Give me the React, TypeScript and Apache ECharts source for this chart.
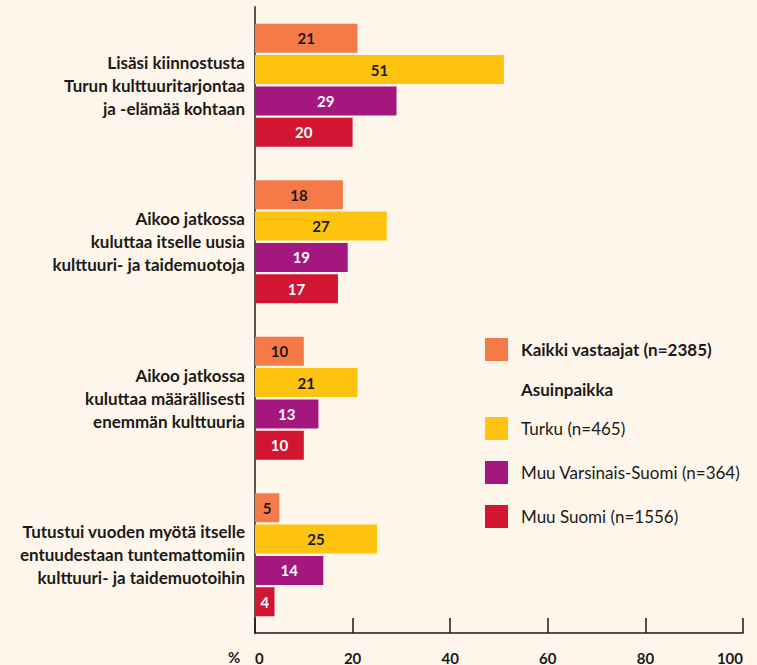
import React, { useEffect, useRef } from "react";
import * as echarts from "echarts";

const categories = [
  "Lisäsi kiinnostusta\nTurun kulttuuritarjontaa\nja -elämää kohtaan",
  "Aikoo jatkossa\nkuluttaa itselle uusia\nkulttuuri- ja taidemuotoja",
  "Aikoo jatkossa\nkuluttaa määrällisesti\nenemmän kulttuuria",
  "Tutustui vuoden myötä itselle\nentuudestaan tuntemattomiin\nkulttuuri- ja taidemuotoihin",
];

const seriesNames = [
  "Kaikki vastaajat (n=2385)",
  "Turku (n=465)",
  "Muu Varsinais-Suomi (n=364)",
  "Muu Suomi (n=1556)",
];

const kaikki = [21, 18, 10, 5];
const turku = [51, 27, 21, 25];
const muuVS = [29, 19, 13, 14];
const muuSuomi = [20, 17, 10, 4];

const xTicks = [0, 20, 40, 60, 80, 100];

const colors = ["#F47B47", "#FEC30E", "#A3177F", "#D11533"];
const labelColors = ["#1a1a1a", "#1a1a1a", "#ffffff", "#ffffff"];
const FONT = "Lato";

export default function App() {
  const ref = useRef<HTMLDivElement>(null);
  useEffect(() => {
    if (!ref.current) return;
    const chart = echarts.init(ref.current, null, { renderer: "svg" });
    const values = [kaikki, turku, muuVS, muuSuomi];
    const series = values.map((vals, i) => ({
      name: seriesNames[i],
      type: "bar",
      data: vals,
      barWidth: 29,
      barGap: "8%",
      itemStyle: { color: colors[i] },
      label: {
        show: true,
        position: "inside",
        color: labelColors[i],
        fontFamily: FONT,
        fontWeight: "bold",
        fontSize: 15,
      },
    }));
    chart.setOption({
      animation: false,
      backgroundColor: "#FEF6EA",
      textStyle: { fontFamily: FONT },
      grid: { left: 255, right: 14, top: 7, bottom: 32, containLabel: false },
      xAxis: {
        type: "value",
        min: xTicks[0],
        max: xTicks[xTicks.length - 1],
        interval: 20,
        splitLine: { show: false },
        axisLine: { show: true, lineStyle: { color: "#1a1a1a", width: 1.5 } },
        axisTick: { show: true, inside: true, length: 15, lineStyle: { color: "#1a1a1a", width: 1.5 } },
        axisLabel: {
          color: "#1a1a1a",
          fontFamily: FONT,
          fontWeight: "bold",
          fontSize: 15,
          margin: 17,
          alignMinLabel: "left",
          alignMaxLabel: "right",
        },
      },
      yAxis: {
        type: "category",
        inverse: true,
        data: categories,
        axisLine: { show: true, lineStyle: { color: "#555555", width: 2 } },
        axisTick: { show: false },
        axisLabel: {
          color: "#1a1a1a",
          fontFamily: FONT,
          fontWeight: "bold",
          fontSize: 17,
          lineHeight: 23,
          margin: 10,
          align: "right",
        },
      },
      legend: [
        {
          data: [seriesNames[0]],
          left: 485,
          top: 338,
          padding: 0,
          orient: "vertical",
          icon: "rect",
          itemWidth: 23,
          itemHeight: 23,
          selectedMode: false,
          textStyle: {
            fontFamily: FONT,
            fontWeight: "bold",
            fontSize: 17,
            color: "#1a1a1a",
            padding: [0, 0, 0, 8],
          },
        },
        {
          data: seriesNames.slice(1),
          left: 485,
          top: 417,
          padding: 0,
          orient: "vertical",
          icon: "rect",
          itemWidth: 23,
          itemHeight: 23,
          itemGap: 21,
          selectedMode: false,
          textStyle: {
            fontFamily: FONT,
            fontSize: 17,
            color: "#1a1a1a",
            padding: [0, 0, 0, 8],
          },
        },
      ],
      graphic: [
        {
          type: "text",
          left: 521,
          top: 381,
          style: {
            text: "Asuinpaikka",
            fontFamily: FONT,
            fontWeight: "bold",
            fontSize: 17,
            fill: "#1a1a1a",
          },
        },
        {
          type: "text",
          left: 228,
          top: 649,
          style: {
            text: "%",
            fontFamily: FONT,
            fontWeight: "bold",
            fontSize: 15,
            fill: "#1a1a1a",
          },
        },
      ],
      series,
    });
    return () => chart.dispose();
  }, []);
  return (
    <div
      ref={ref}
      style={{ position: "fixed", left: 0, top: 0, width: 757, height: 665 }}
    />
  );
}
